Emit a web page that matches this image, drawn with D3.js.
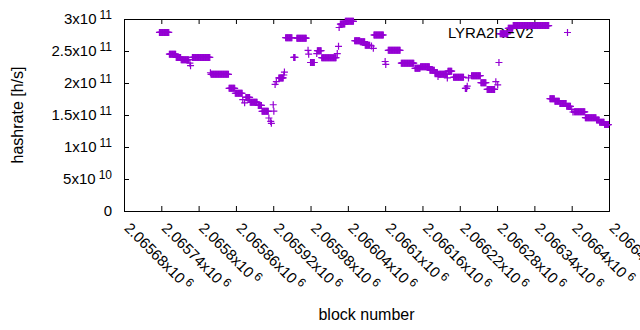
<!DOCTYPE html>
<html>
<head>
<meta charset="utf-8">
<title>hashrate</title>
<script src="https://cdn.jsdelivr.net/npm/d3@7"></script>
<style>
    body { margin: 0; background: #fff; }
    svg text { font-family: "Liberation Sans", Arial, sans-serif; fill: #000; }
</style>
</head>
<body>
<div id="chart"></div>
<script>
    // runs of blocks with the same hashrate (start block, end block, rate)
    var runStart = [2065737, 2065753, 2065764, 2065772, 2065786, 2065787, 2065790, 2065819, 2065820, 2065849,
        2065859, 2065871, 2065874, 2065876, 2065883, 2065896, 2065902, 2065913, 2065916, 2065917,
        2065920, 2065921, 2065923, 2065925, 2065929, 2065937, 2065938, 2065940, 2065953, 2065958,
        2065976, 2065977, 2065980, 2065990, 2065991, 2065998, 2066023, 2066025, 2066026, 2066028,
        2066036, 2066051, 2066060, 2066068, 2066078, 2066081, 2066082, 2066100, 2066101, 2066105,
        2066126, 2066148, 2066157, 2066172, 2066180, 2066185, 2066186, 2066200, 2066201, 2066210,
        2066229, 2066232, 2066234, 2066239, 2066254, 2066264, 2066278, 2066281, 2066283, 2066285,
        2066298, 2066306, 2066365, 2066373, 2066381, 2066392, 2066400, 2066402, 2066404, 2066422,
        2066440, 2066445, 2066453];
    var runEnd = [2065752, 2065763, 2065771, 2065784, 2065786, 2065787, 2065818, 2065819, 2065848, 2065858,
        2065870, 2065871, 2065874, 2065882, 2065894, 2065901, 2065912, 2065913, 2065916, 2065917,
        2065920, 2065921, 2065923, 2065925, 2065936, 2065937, 2065938, 2065950, 2065955, 2065973,
        2065976, 2065977, 2065986, 2065990, 2065997, 2066021, 2066023, 2066025, 2066026, 2066035,
        2066049, 2066059, 2066067, 2066075, 2066078, 2066081, 2066097, 2066100, 2066101, 2066124,
        2066146, 2066156, 2066171, 2066179, 2066184, 2066185, 2066199, 2066200, 2066207, 2066226,
        2066231, 2066232, 2066234, 2066253, 2066262, 2066276, 2066278, 2066281, 2066283, 2066297,
        2066305, 2066363, 2066372, 2066380, 2066391, 2066398, 2066400, 2066402, 2066421, 2066439,
        2066444, 2066452, 2066459];
    var runRate = [2.79e11, 2.45e11, 2.40e11, 2.365e11, 2.31e11, 2.27e11, 2.40e11, 2.16e11, 2.135e11, 1.917e11,
        1.84e11, 1.74e11, 1.69e11, 1.775e11, 1.70e11, 1.65e11, 1.557e11, 1.453e11, 1.40e11, 1.37e11,
        1.66e11, 1.56e11, 1.977e11, 2.02e11, 2.08e11, 2.125e11, 2.17e11, 2.708e11, 2.40e11, 2.70e11,
        2.51e11, 2.45e11, 2.32e11, 2.46e11, 2.505e11, 2.396e11, 2.46e11, 2.573e11, 2.867e11, 2.92e11,
        2.964e11, 2.66e11, 2.645e11, 2.59e11, 2.578e11, 2.542e11, 2.75e11, 2.336e11, 2.29e11, 2.51e11,
        2.31e11, 2.23e11, 2.255e11, 2.20e11, 2.16e11, 2.10e11, 2.135e11, 2.08e11, 2.185e11, 2.09e11,
        1.915e11, 1.95e11, 2.08e11, 2.115e11, 2.005e11, 1.90e11, 2.02e11, 1.97e11, 2.32e11, 2.77e11,
        2.855e11, 2.898e11, 1.755e11, 1.714e11, 1.68e11, 1.635e11, 1.586e11, 1.547e11, 1.55e11, 1.458e11,
        1.42e11, 1.385e11, 1.35e11];

    var xTicks = [2065680, 2065740, 2065800, 2065860, 2065920, 2065980, 2066040,
        2066100, 2066160, 2066220, 2066280, 2066340, 2066400, 2066460];
    var yTicks = [0, 5e10, 1e11, 1.5e11, 2e11, 2.5e11, 3e11];
    var seriesName = "LYRA2REV2";

    var W = 640, H = 330;
    var L = 124, R = 609, T = 19, B = 211;
    var col = "#9400d3";

    var svg = d3.select("#chart").append("svg")
        .attr("width", W).attr("height", H);

    var x = d3.scaleLinear().domain([2065680, 2066460]).range([L, R]);
    var y = d3.scaleLinear().domain([0, 3e11]).range([B, T]);

    // ticks on all four sides, pointing inward
    function noLab(a) { return a.tickFormat("").tickSizeOuter(0).tickSize(-5); }
    svg.append("g").attr("transform", "translate(" + L + ",0)").call(noLab(d3.axisLeft(y).tickValues(yTicks)));
    svg.append("g").attr("transform", "translate(" + R + ",0)").call(noLab(d3.axisRight(y).tickValues(yTicks)));
    svg.append("g").attr("transform", "translate(0," + B + ")").call(noLab(d3.axisBottom(x).tickValues(xTicks)));
    svg.append("g").attr("transform", "translate(0," + T + ")").call(noLab(d3.axisTop(x).tickValues(xTicks)));
    svg.selectAll(".domain").attr("stroke", "#000");
    svg.selectAll(".tick line").attr("stroke", "#000");

    // mantissa / exponent like gnuplot "x10^{n}"
    function sci(v) {
        if (v === 0) return ["0", null];
        var e = Math.floor(Math.log10(v) + 1e-9);
        var m = +(v / Math.pow(10, e)).toPrecision(6);
        return [m + "x10", String(e)];
    }

    // y labels
    var yl = svg.selectAll(".ylab").data(yTicks).enter().append("text")
        .attr("class", "ylab")
        .attr("x", 112)
        .attr("y", function(d) { return y(d) + 5; })
        .attr("text-anchor", "end")
        .style("font-size", "15px");
    yl.append("tspan").text(function(d) { return sci(d)[0]; });
    yl.filter(function(d) { return d !== 0; }).append("tspan")
        .attr("dx", 3).attr("dy", -5)
        .style("font-size", "12px")
        .text(function(d) { return sci(d)[1]; });

    // x labels, rotated
    var xl = svg.selectAll(".xlab").data(xTicks).enter().append("text")
        .attr("class", "xlab")
        .attr("transform", function(d) { return "translate(" + (x(d) - 0.5) + ",229) rotate(45)"; })
        .style("font-size", "15px");
    xl.append("tspan").text(function(d) { return sci(d)[0]; });
    xl.append("tspan")
        .attr("dx", 3).attr("dy", -5)
        .style("font-size", "12px")
        .text(function(d) { return sci(d)[1]; });

    // axis titles
    svg.append("text")
        .attr("transform", "translate(22.5," + ((T + B) / 2) + ") rotate(-90)")
        .attr("text-anchor", "middle")
        .style("font-size", "16px")
        .text("hashrate [h/s]");
    svg.append("text")
        .attr("x", (L + R) / 2).attr("y", 320)
        .attr("text-anchor", "middle")
        .style("font-size", "16px")
        .text("block number");

    // key
    svg.append("text")
        .attr("x", 533.5).attr("y", 37.5)
        .attr("text-anchor", "end")
        .style("font-size", "15px")
        .text(seriesName);
    function plus(cx, cy) {
        return "M" + (cx - 3.5) + "," + cy + "H" + (cx + 3.5) + "M" + cx + "," + (cy - 3.5) + "V" + (cy + 3.5);
    }
    svg.append("path").attr("d", plus(567.5, 32.5))
        .attr("stroke", col).attr("fill", "none").attr("stroke-width", 1.2);

    // points: one "+" for every block of each run
    var pts = [];
    runStart.forEach(function(s, i) {
        for (var b = s; b <= runEnd[i]; b++) pts.push({ block: b, rate: runRate[i] });
    });
    svg.append("g").selectAll("path").data(pts).enter().append("path")
        .attr("d", function(d) { return plus(x(d.block), y(d.rate)); })
        .attr("stroke", col)
        .attr("fill", "none")
        .attr("stroke-width", 1.2);
</script>
</body>
</html>
